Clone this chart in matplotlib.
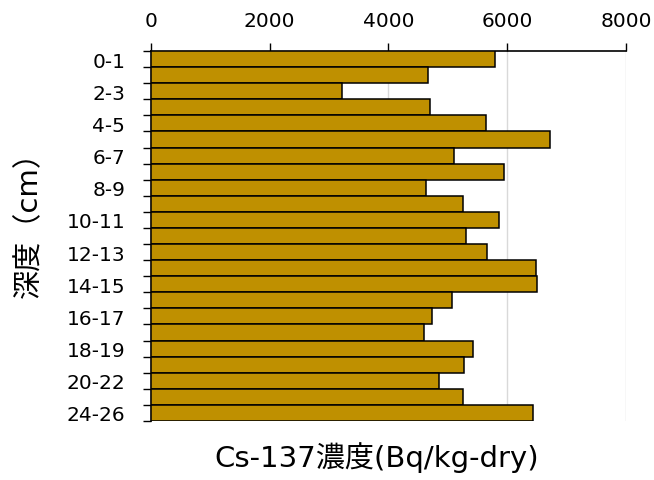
import matplotlib
matplotlib.use("Agg")
import matplotlib.pyplot as plt
import numpy as np

plt.rcParams['font.family'] = ['DejaVu Sans', 'Noto Sans CJK JP']

depths = ["0-1", "1-2", "2-3", "3-4", "4-5", "5-6", "6-7", "7-8", "8-9", "9-10",
          "10-11", "11-12", "12-13", "13-14", "14-15", "15-16", "16-17", "17-18",
          "18-19", "19-20", "20-22", "22-24", "24-26"]
cs137 = [5794, 4660, 3217, 4694, 5648, 6720, 5098, 5940, 4637, 5260,
         5867, 5305, 5659, 6479, 6507, 5070, 4733, 4604, 5418, 5272,
         4851, 5260, 6434]
x_ticks = [0, 2000, 4000, 6000, 8000]

fig = plt.figure(figsize=(6.54, 4.81), dpi=100)
ax = fig.add_axes([0.2309, 0.1227, 0.7261, 0.7692])

pos = np.arange(len(depths))
ax.barh(pos, cs137, height=1.0, color="#BF9000", edgecolor="black",
        linewidth=1.1, zorder=3)

ax.set_xlim(0, 8000)
ax.set_ylim(len(depths) - 0.5, -0.5)

# value axis on top
ax.xaxis.tick_top()
ax.xaxis.set_label_position("bottom")
ax.set_xticks(x_ticks)
ax.set_xticklabels([str(v) for v in x_ticks])
ax.tick_params(axis="x", which="major", length=6, width=1, direction="out",
               pad=9, labelsize=14.5, colors="black")
ax.grid(axis="x", color="#D9D9D9", linewidth=1.0, zorder=0)

# category axis: ticks between categories, labels on every other category
ax.set_yticks(np.arange(len(depths) + 1) - 0.5)
ax.set_yticklabels([])
ax.tick_params(axis="y", which="major", length=6, width=1, direction="out")
label_pos = pos[::2]
ax.set_yticks(label_pos, minor=True)
ax.set_yticklabels([depths[i] for i in label_pos], minor=True)
ax.tick_params(axis="y", which="minor", length=0, pad=18.5, labelsize=14.5)

for side in ("right", "bottom"):
    ax.spines[side].set_visible(False)
ax.spines["top"].set_linewidth(1.2)
ax.spines["left"].set_linewidth(1.2)

ax.set_xlabel("Cs-137濃度(Bq/kg-dry)", fontsize=21)
ax.set_ylabel("深度（cm）", fontsize=21)
ax.xaxis.set_label_coords(0.476, -0.055, transform=ax.transAxes)
ax.xaxis.label.set_va("top")
ax.yaxis.set_label_coords(-0.257, 0.554, transform=ax.transAxes)
ax.yaxis.label.set_va("center")

fig.savefig("out.png", dpi=100)
